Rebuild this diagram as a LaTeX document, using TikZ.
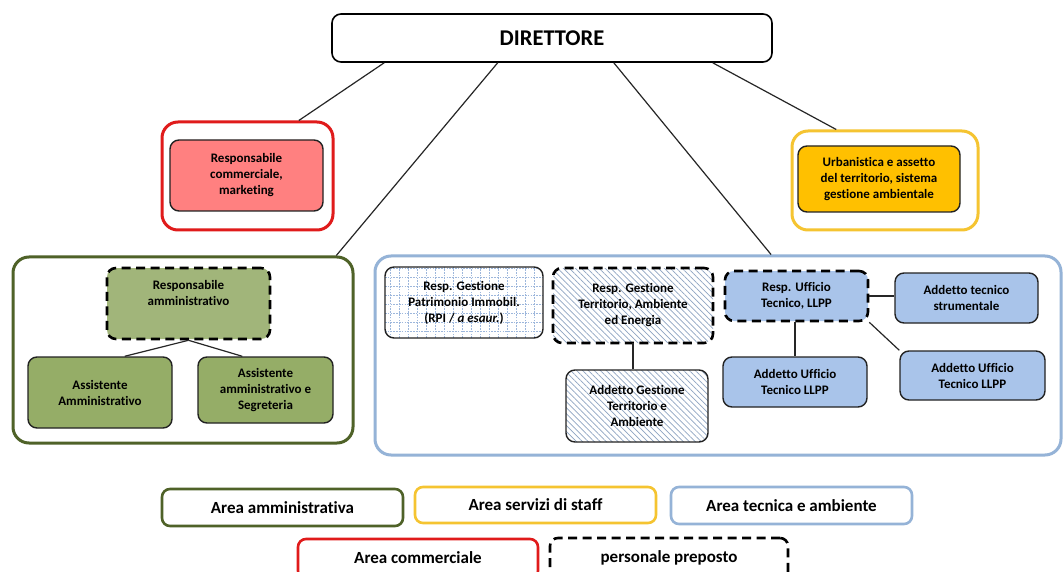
\documentclass[tikz,border=0pt]{standalone}
\usepackage{fontspec}
\setmainfont{Carlito}[Ligatures=NoCommon]
\usetikzlibrary{patterns,patterns.meta,calc}
\definecolor{boxline}{HTML}{222222}
\definecolor{redarea}{HTML}{E01B1B}
\definecolor{pinkfill}{HTML}{FF8080}
\definecolor{greenarea}{HTML}{4F6228}
\definecolor{greenfillA}{HTML}{A1B57A}
\definecolor{greenfillB}{HTML}{95AD67}
\definecolor{yellowarea}{HTML}{F5C431}
\definecolor{yellowfill}{HTML}{FFC000}
\definecolor{bluearea}{HTML}{95B3D7}
\definecolor{bluefill}{HTML}{A9C4EA}
\definecolor{hatchcol}{HTML}{8EA4C2}
\definecolor{gridcol}{HTML}{9DB7DC}
\newcommand{\boxfont}{\bfseries\fontsize{13}{16}\selectfont}
\newcommand{\legfont}{\bfseries\fontsize{17}{19}\selectfont}
\begin{document}
\begin{tikzpicture}[x=1pt,y=-1pt,
  box/.style={draw=boxline, line width=1.4pt, rounded corners=9pt, align=center, font=\boxfont, inner sep=2pt},
  area/.style={line width=3pt, rounded corners=16pt, fill=white},
  dashbox/.style={draw=black, dash pattern=on 9pt off 5.5pt, line width=2.6pt},
  conn/.style={line width=1.2pt, draw=black!85},
  hatched/.style={pattern={Lines[angle=-45, distance=4.2pt, line width=0.7pt]}, pattern color=hatchcol},
  leg/.style={line width=2.6pt, rounded corners=8pt, font=\legfont, align=center, fill=white},
]
\fill[white] (0,0) rectangle (1063,572);
\useasboundingbox (0,0) rectangle (1063,572);

% top
\node[draw=black, line width=1.6pt, rounded corners=9pt, minimum width=440pt, minimum height=48pt,
  font=\bfseries\fontsize{22.5}{26}\selectfont] (dir) at (552,38) {DIRETTORE};

% area boxes
\node[area, draw=redarea, minimum width=171pt, minimum height=108pt] (redA) at (247.5,176) {};
\node[area, draw=yellowarea, minimum width=186pt, minimum height=99pt] (yelA) at (885,180.5) {};
\node[area, draw=greenarea, minimum width=340pt, minimum height=186pt] (grnA) at (183,350) {};
\node[area, draw=bluearea, minimum width=686pt, minimum height=199pt] (bluA) at (718,355.5) {};

% red / yellow
\node[box, fill=pinkfill, minimum width=153pt, minimum height=71pt] (comm) at (246.5,175.5)
  {Responsabile\\commerciale,\\marketing};
\node[box, fill=yellowfill, minimum width=162pt, minimum height=66pt] (urb) at (879,179)
  {Urbanistica e assetto\\del territorio, sistema\\gestione ambientale};

% green area
\node[box, dashbox, fill=greenfillA, minimum width=163pt, minimum height=71pt] (ramm) at (188.5,303.5)
  {Responsabile\\amministrativo\\[5pt]};
\node[box, fill=greenfillB, minimum width=144pt, minimum height=71pt] (ass1) at (100,392.5)
  {Assistente\\Amministrativo};
\node[box, fill=greenfillB, minimum width=135pt, minimum height=66pt] (ass2) at (265.5,390)
  {Assistente\\amministrativo e\\Segreteria};

% blue area
\node[box, fill=white, minimum width=158pt, minimum height=71pt,
  path picture={\draw[gridcol, dash pattern=on 1.6pt off 1.2pt, line width=0.6pt, step=9pt]
    (path picture bounding box.south west) grid (path picture bounding box.north east);}]
  (patr) at (464,302.5) {Resp. Gestione\\Patrimonio Immobil.\\(RPI / \textit{a esaur.})};
\node[box, dashbox, hatched, minimum width=160pt, minimum height=75pt]
  (terr) at (633,305.5) {Resp. Gestione\\Territorio, Ambiente\\ed Energia};
\node[box, hatched, minimum width=142pt, minimum height=72pt]
  (addterr) at (637,406) {Addetto Gestione\\Territorio e\\Ambiente};
\node[box, dashbox, fill=bluefill, minimum width=143pt, minimum height=50pt] (uff) at (796.5,296)
  {Resp. Ufficio\\Tecnico, LLPP};
\node[box, fill=bluefill, minimum width=143pt, minimum height=50pt] (strum) at (966.5,298)
  {Addetto tecnico\\strumentale};
\node[box, fill=bluefill, minimum width=144pt, minimum height=50pt] (llpp1) at (795,382)
  {Addetto Ufficio\\Tecnico LLPP};
\node[box, fill=bluefill, minimum width=145pt, minimum height=49pt] (llpp2) at (972.5,375.5)
  {Addetto Ufficio\\Tecnico LLPP};

% connectors from director
\draw[conn] ($(dir.south west)!0.12!(dir.south east)$) -- ($(redA.north west)!0.795!(redA.north east)$);
\draw[conn] ($(dir.south west)!0.377!(dir.south east)$) -- ($(grnA.north west)!0.947!(grnA.north east)$);
\draw[conn] ($(dir.south west)!0.64!(dir.south east)$) -- ($(bluA.north west)!0.577!(bluA.north east)$);
\draw[conn] ($(dir.south west)!0.864!(dir.south east)$) -- ($(yelA.north west)!0.242!(yelA.north east)$);

% inner connectors
\draw[conn] (ramm.south) -- ($(ass1.north west)!0.67!(ass1.north east)$);
\draw[conn] (ramm.south) -- ($(ass2.north west)!0.33!(ass2.north east)$);
\draw[conn] (terr.south) -- (terr.south |- addterr.north);
\draw[conn] (uff.east) -- (uff.east -| strum.west);
\draw[conn] (llpp1.north |- uff.south) -- (llpp1.north);
\draw[conn] (uff.south east) -- (llpp2.north west);

% legend
\node[leg, draw=greenarea, minimum width=241pt, minimum height=37pt] (l1) at (282.5,507.5) {Area amministrativa};
\node[leg, draw=yellowarea, minimum width=241pt, minimum height=36pt] (l2) at (535.5,505) {Area servizi di staff};
\node[leg, draw=bluearea, minimum width=241pt, minimum height=37pt] (l3) at (791.5,505.5) {Area tecnica e ambiente};
\node[leg, draw=redarea, minimum width=240pt, minimum height=40pt, text depth=3pt] (l4) at (418,559) {Area commerciale};
\node[leg, dashbox, rounded corners=8pt, minimum width=238pt, minimum height=42pt, text depth=4pt] (l5) at (669,559) {personale preposto};
\end{tikzpicture}
\end{document}
